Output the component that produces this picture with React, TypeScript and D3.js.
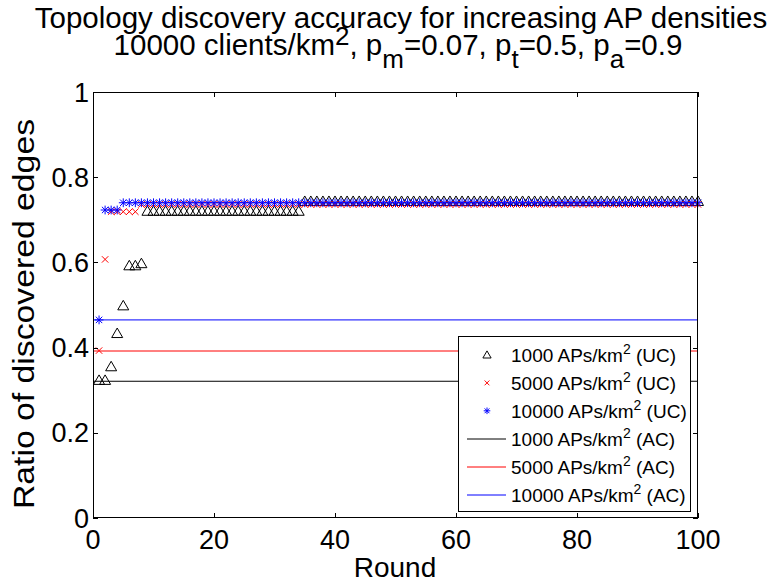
import React, { useEffect, useRef } from 'react';
import * as d3 from 'd3';

// x values: round number 1..100
const rounds = d3.range(1, 101);

// 1000 APs/km^2 (UC) - triangles
const uc1000 = [
  0.323, 0.323, 0.355, 0.433, 0.498, 0.592, 0.592, 0.597, 0.72, 0.72,
  0.72, 0.72, 0.72, 0.72, 0.72, 0.72, 0.72, 0.72, 0.72, 0.72,
  0.72, 0.72, 0.72, 0.72, 0.72, 0.72, 0.72, 0.72, 0.72, 0.72,
  0.72, 0.72, 0.72, 0.72, 0.743, 0.743, 0.743, 0.743, 0.743, 0.743,
  0.743, 0.743, 0.743, 0.743, 0.743, 0.743, 0.743, 0.743, 0.743, 0.743,
  0.743, 0.743, 0.743, 0.743, 0.743, 0.743, 0.743, 0.743, 0.743, 0.743,
  0.743, 0.743, 0.743, 0.743, 0.743, 0.743, 0.743, 0.743, 0.743, 0.743,
  0.743, 0.743, 0.743, 0.743, 0.743, 0.743, 0.743, 0.743, 0.743, 0.743,
  0.743, 0.743, 0.743, 0.743, 0.743, 0.743, 0.743, 0.743, 0.743, 0.743,
  0.743, 0.743, 0.743, 0.743, 0.743, 0.743, 0.743, 0.743, 0.743, 0.743,
];

// 5000 APs/km^2 (UC) - red x
const uc5000 = [
  0.393, 0.607, 0.719, 0.719, 0.719, 0.719, 0.719, 0.736, 0.736, 0.736,
  0.736, 0.736, 0.736, 0.736, 0.736, 0.736, 0.736, 0.736, 0.736, 0.736,
  0.736, 0.736, 0.736, 0.736, 0.736, 0.736, 0.736, 0.736, 0.736, 0.736,
  0.736, 0.736, 0.736, 0.736, 0.736, 0.736, 0.736, 0.736, 0.736, 0.736,
  0.736, 0.736, 0.736, 0.736, 0.736, 0.736, 0.736, 0.736, 0.736, 0.736,
  0.736, 0.736, 0.736, 0.736, 0.736, 0.736, 0.736, 0.736, 0.736, 0.736,
  0.736, 0.736, 0.736, 0.736, 0.736, 0.736, 0.736, 0.736, 0.736, 0.736,
  0.736, 0.736, 0.736, 0.736, 0.736, 0.736, 0.736, 0.736, 0.736, 0.736,
  0.736, 0.736, 0.736, 0.736, 0.736, 0.736, 0.736, 0.736, 0.736, 0.736,
  0.736, 0.736, 0.736, 0.736, 0.736, 0.736, 0.736, 0.736, 0.736, 0.736,
];

// 10000 APs/km^2 (UC) - blue asterisks
const uc10000 = [
  0.465, 0.723, 0.723, 0.723, 0.74, 0.74, 0.74, 0.74, 0.74, 0.74,
  0.74, 0.74, 0.74, 0.74, 0.74, 0.74, 0.74, 0.74, 0.74, 0.74,
  0.74, 0.74, 0.74, 0.74, 0.74, 0.74, 0.74, 0.74, 0.74, 0.74,
  0.74, 0.74, 0.74, 0.74, 0.74, 0.74, 0.74, 0.74, 0.74, 0.74,
  0.74, 0.74, 0.74, 0.74, 0.74, 0.74, 0.74, 0.74, 0.74, 0.74,
  0.74, 0.74, 0.74, 0.74, 0.74, 0.74, 0.74, 0.74, 0.74, 0.74,
  0.74, 0.74, 0.74, 0.74, 0.74, 0.74, 0.74, 0.74, 0.74, 0.74,
  0.74, 0.74, 0.74, 0.74, 0.74, 0.74, 0.74, 0.74, 0.74, 0.74,
  0.74, 0.74, 0.74, 0.74, 0.74, 0.74, 0.74, 0.74, 0.74, 0.74,
  0.74, 0.74, 0.74, 0.74, 0.74, 0.74, 0.74, 0.74, 0.74, 0.74,
];

// AC reference lines (constant)
const acRounds = [0, 100];
const ac1000 = [0.321, 0.321];
const ac5000 = [0.392, 0.392];
const ac10000 = [0.465, 0.465];

const xTicks = [0, 20, 40, 60, 80, 100];
const yTicks = [0, 0.2, 0.4, 0.6, 0.8, 1];

const legendLabels = ['1000', '5000', '10000', '1000', '5000', '10000'];
const legendKinds = ['(UC)', '(UC)', '(UC)', '(AC)', '(AC)', '(AC)'];

const FONT = '"Liberation Sans", Arial, Helvetica, sans-serif';

const triPath = 'M0,-5.5L5.5,4L-5.5,4Z';
const xPath = 'M-3.2,-3.2L3.2,3.2M-3.2,3.2L3.2,-3.2';
const starPath = 'M-4.4,0H4.4M0,-4.4V4.4M-3.2,-3.2L3.2,3.2M-3.2,3.2L3.2,-3.2';

const App = () => {
  const svgRef = useRef<SVGSVGElement | null>(null);

  useEffect(() => {
    const svg = d3.select(svgRef.current);
    svg.selectAll('*').remove();

    const x = d3.scaleLinear().domain([0, 100]).range([93, 698]);
    const y = d3.scaleLinear().domain([0, 1]).range([518, 92]);

    svg.append('rect').attr('width', 776).attr('height', 586).attr('fill', '#fff');

    // title (two lines, tex-like sub/superscripts)
    svg.append('text')
      .attr('x', 401).attr('y', 28)
      .attr('text-anchor', 'middle')
      .style('font-family', FONT)
      .style('font-size', '29.5px')
      .text('Topology discovery accuracy for increasing AP densities');
    const t2 = svg.append('text')
      .attr('x', 398).attr('y', 55)
      .attr('text-anchor', 'middle')
      .style('font-family', FONT)
      .style('font-size', '29.5px');
    const sub = (s: string) => t2.append('tspan').attr('dy', 13).style('font-size', '26px').text(s);
    t2.append('tspan').text('10000 clients/km');
    t2.append('tspan').attr('dy', -10).style('font-size', '26px').text('2');
    t2.append('tspan').attr('dy', 10).text(', p');
    sub('m');
    t2.append('tspan').attr('dy', -13).text('=0.07, p');
    sub('t');
    t2.append('tspan').attr('dy', -13).text('=0.5, p');
    sub('a');
    t2.append('tspan').attr('dy', -13).text('=0.9');

    // AC lines
    const series = [
      { v: ac1000, c: '#000000' },
      { v: ac5000, c: '#ff0000' },
      { v: ac10000, c: '#0000ff' },
    ];
    series.forEach(s => {
      const line = d3.line<number>()
        .x((d, i) => x(acRounds[i]))
        .y(d => y(d));
      svg.append('path')
        .datum(s.v)
        .attr('fill', 'none')
        .attr('stroke', s.c)
        .attr('stroke-width', 1)
        .attr('d', line);
    });

    // UC markers
    const markers = [
      { v: uc1000, c: '#000000', p: triPath },
      { v: uc5000, c: '#ff0000', p: xPath },
      { v: uc10000, c: '#0000ff', p: starPath },
    ];
    markers.forEach(m => {
      svg.append('g')
        .selectAll('path')
        .data(m.v)
        .enter()
        .append('path')
        .attr('transform', (d, i) => `translate(${x(rounds[i])},${y(d)})`)
        .attr('d', m.p)
        .attr('fill', 'none')
        .attr('stroke', m.c)
        .attr('stroke-width', 1);
    });

    // axes box + inward ticks on all sides
    svg.append('rect')
      .attr('x', 93.5).attr('y', 92.5)
      .attr('width', 604).attr('height', 425)
      .attr('fill', 'none').attr('stroke', '#000').attr('stroke-width', 1);

    const tl = 5;
    xTicks.forEach(v => {
      const px = Math.round(x(v)) + 0.5;
      svg.append('line').attr('x1', px).attr('x2', px).attr('y1', 518).attr('y2', 518 - tl)
        .attr('stroke', '#000');
      svg.append('line').attr('x1', px).attr('x2', px).attr('y1', 92).attr('y2', 92 + tl)
        .attr('stroke', '#000');
      svg.append('text')
        .attr('x', x(v)).attr('y', 549)
        .attr('text-anchor', 'middle')
        .style('font-family', FONT).style('font-size', '27px')
        .text(String(v));
    });
    yTicks.forEach(v => {
      const py = Math.round(y(v)) + 0.5;
      svg.append('line').attr('x1', 93).attr('x2', 93 + tl).attr('y1', py).attr('y2', py)
        .attr('stroke', '#000');
      svg.append('line').attr('x1', 698).attr('x2', 698 - tl).attr('y1', py).attr('y2', py)
        .attr('stroke', '#000');
      svg.append('text')
        .attr('x', 89).attr('y', y(v) + 9.5)
        .attr('text-anchor', 'end')
        .style('font-family', FONT).style('font-size', '27px')
        .text(String(v));
    });

    // axis labels
    svg.append('text')
      .attr('x', 395).attr('y', 577)
      .attr('text-anchor', 'middle')
      .style('font-family', FONT).style('font-size', '28px')
      .text('Round');
    svg.append('text')
      .attr('transform', 'translate(34,314) rotate(-90)')
      .attr('text-anchor', 'middle')
      .attr('textLength', 390)
      .attr('lengthAdjust', 'spacingAndGlyphs')
      .style('font-family', FONT).style('font-size', '29px')
      .text('Ratio of discovered edges');

    // legend
    const lg = svg.append('g');
    lg.append('rect')
      .attr('x', 458.5).attr('y', 336.5)
      .attr('width', 232).attr('height', 175)
      .attr('fill', '#fff').attr('stroke', '#000').attr('stroke-width', 1);
    const legendColors = ['#000000', '#ff0000', '#0000ff', '#000000', '#ff0000', '#0000ff'];
    const legendPaths = [triPath, xPath, starPath];
    legendLabels.forEach((lab, i) => {
      const cy = 355 + i * 27.9;
      if (i < 3) {
        lg.append('path')
          .attr('transform', `translate(487,${cy}) scale(0.75)`)
          .attr('d', legendPaths[i])
          .attr('fill', 'none')
          .attr('stroke', legendColors[i])
          .attr('stroke-width', 1.3);
      } else {
        lg.append('line')
          .attr('x1', 467).attr('x2', 506)
          .attr('y1', Math.round(cy)).attr('y2', Math.round(cy))
          .attr('stroke', legendColors[i])
          .attr('stroke-width', 1);
      }
      const tx = lg.append('text')
        .attr('x', 511).attr('y', cy + 7)
        .style('font-family', FONT).style('font-size', '19px');
      tx.append('tspan').text(`${lab} APs/km`);
      tx.append('tspan').attr('dy', -8).style('font-size', '14px').text('2');
      tx.append('tspan').attr('dy', 8).text(` ${legendKinds[i]}`);
    });
  }, []);

  return (
    <svg
      ref={svgRef}
      width={776}
      height={586}
      style={{ position: 'absolute', left: 0, top: 0 }}
    />
  );
};

export default App;
